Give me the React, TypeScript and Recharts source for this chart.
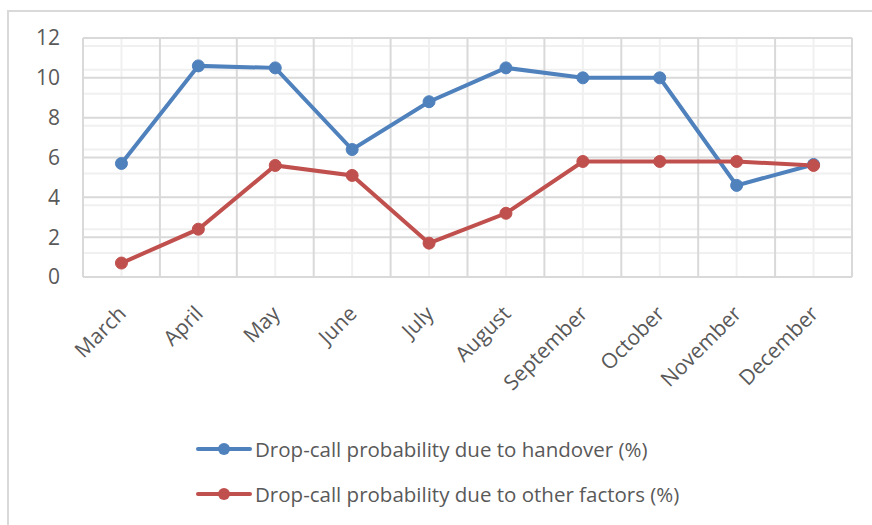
import React from "react";
import {
  CartesianGrid,
  Legend,
  Line,
  LineChart,
  XAxis,
  YAxis,
} from "recharts";

const MONTHS = ["March", "April", "May", "June", "July", "August", "September", "October", "November", "December"];
const HANDOVER = [5.7, 10.6, 10.5, 6.4, 8.8, 10.5, 10.0, 10.0, 4.6, 5.65];
const OTHER = [0.7, 2.4, 5.6, 5.1, 1.7, 3.2, 5.8, 5.8, 5.8, 5.6];
const Y_TICKS = [0, 2, 4, 6, 8, 10, 12];
const Y_MINOR = [0.4, 0.8, 1.2, 1.6, 2.4, 2.8, 3.2, 3.6, 4.4, 4.8, 5.2, 5.6, 6.4, 6.8, 7.2, 7.6, 8.4, 8.8, 9.2, 9.6, 10.4, 10.8, 11.2, 11.6];

const BLUE = "#4f81bd";
const RED = "#c0504d";
const TEXT = "#595959";
const FONT = "'Open Sans', sans-serif";

const data = MONTHS.map((m, i) => ({ month: m, handover: HANDOVER[i], other: OTHER[i] }));

const MonthTick = ({ x, y, payload }: any) => {
  const ax = x + 6;
  const ay = y + 30;
  return (
    <text
      x={ax}
      y={ay}
      transform={`rotate(-45, ${ax}, ${ay})`}
      textAnchor="end"
      fill={TEXT}
      fontSize={21}
      fontFamily={FONT}
    >
      {payload.value}
    </text>
  );
};

const LegendBox = () => {
  const rows = [
    { label: "Drop-call probability due to handover (%)", color: BLUE },
    { label: "Drop-call probability due to other factors (%)", color: RED },
  ];
  return (
    <div style={{ fontFamily: FONT, fontSize: 20.5, color: TEXT }}>
      {rows.map((r) => (
        <div key={r.label} style={{ display: "flex", alignItems: "center", height: 45 }}>
          <svg width={56} height={14} style={{ marginRight: 3 }}>
            <line x1={2} y1={7} x2={54} y2={7} stroke={r.color} strokeWidth={4} strokeLinecap="round" />
            <circle cx={28} cy={7} r={6} fill={r.color} />
          </svg>
          <span>{r.label}</span>
        </div>
      ))}
    </div>
  );
};

export default function App() {
  const boundaries = ({ offset }: any) =>
    MONTHS.concat([""]).map((_, i) => offset.left + (i * offset.width) / MONTHS.length);

  return (
    <div style={{ position: "absolute", left: 0, top: 0, width: 872, height: 525, background: "#fff", overflow: "hidden" }}>
      <div
        style={{
          position: "absolute",
          left: 7,
          top: 10,
          width: 880,
          height: 540,
          border: "2px solid #d9d9d9",
          boxSizing: "border-box",
        }}
      />
      <LineChart
        width={872}
        height={525}
        data={data}
        margin={{ top: 38, right: 20, bottom: 0, left: 0 }}
        style={{ position: "absolute", left: 0, top: 0 }}
      >
        <CartesianGrid stroke="#f0f0f0" strokeWidth={2} horizontalValues={Y_MINOR} vertical={true} />
        <CartesianGrid
          stroke="#d9d9d9"
          strokeWidth={2}
          horizontalValues={Y_TICKS}
          verticalCoordinatesGenerator={boundaries}
        />
        <XAxis
          dataKey="month"
          scale="band"
          height={248}
          axisLine={false}
          tickLine={false}
          interval={0}
          tick={<MonthTick />}
        />
        <YAxis
          width={83}
          domain={[0, 12]}
          ticks={Y_TICKS}
          axisLine={false}
          tickLine={false}
          tickSize={0}
          tickMargin={23}
          tick={{ fill: TEXT, fontSize: 21, fontFamily: FONT }}
        />
        <Legend
          layout="vertical"
          align="center"
          verticalAlign="middle"
          wrapperStyle={{ position: "absolute", left: 196, top: 426, width: 580 }}
          content={<LegendBox />}
        />
        <Line
          dataKey="handover"
          stroke={BLUE}
          strokeWidth={4}
          dot={{ r: 6, fill: BLUE, stroke: BLUE, strokeWidth: 1 }}
          activeDot={false}
          isAnimationActive={false}
        />
        <Line
          dataKey="other"
          stroke={RED}
          strokeWidth={4}
          dot={{ r: 6, fill: RED, stroke: RED, strokeWidth: 1 }}
          activeDot={false}
          isAnimationActive={false}
        />
      </LineChart>
    </div>
  );
}
